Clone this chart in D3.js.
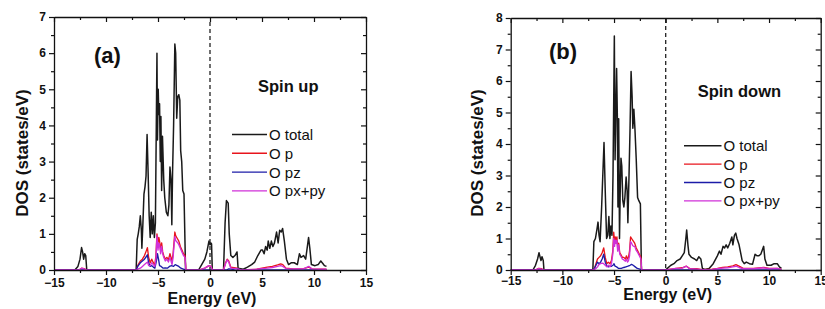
<!DOCTYPE html>
<html><head><meta charset="utf-8">
<script src="https://cdn.jsdelivr.net/npm/d3@7/dist/d3.min.js"></script>
<style>
html,body{margin:0;padding:0;background:#fff;}
svg{display:block;font-family:"Liberation Sans",Arial,sans-serif;}
</style></head>
<body>
<svg id="chart" width="825" height="309"></svg>
<script>
// ---------------- DATA ----------------
const xTicks = [-15, -10, -5, 0, 5, 10, 15];
const yTicksUp = [0, 1, 2, 3, 4, 5, 6, 7];
const yTicksDown = [0, 1, 2, 3, 4, 5, 6, 7, 8];
const seriesNames = ["O total", "O p", "O pz", "O px+py"];
const panelLabels = ["(a)", "(b)"];
const spinLabels = ["Spin up", "Spin down"];

// Spin up: [energy (eV), DOS]
const upTotal = [[-15,0],[-13.0,0],[-12.7,0.1],[-12.5,0.3],[-12.35,0.62],[-12.25,0.5],[-12.15,0.3],[-12.05,0.45],[-11.95,0.4],[-11.85,0],[-7.1,0],[-7.0,0.85],[-6.9,1.0],[-6.8,1.2],[-6.7,1.5],[-6.6,1.1],[-6.55,0.6],[-6.45,1.3],[-6.35,2.1],[-6.25,2.3],[-6.15,2.6],[-6.05,3.75],[-5.95,2.7],[-5.85,1.5],[-5.75,0.9],[-5.65,1.6],[-5.55,1.0],[-5.45,1.5],[-5.35,0.9],[-5.25,1.3],[-5.1,6.0],[-5.05,3.6],[-4.98,5.0],[-4.92,4.3],[-4.85,4.6],[-4.78,3.0],[-4.72,4.25],[-4.65,2.2],[-4.57,3.7],[-4.45,2.5],[-4.35,2.0],[-4.2,1.6],[-4.05,1.5],[-3.95,1.8],[-3.85,2.85],[-3.75,2.5],[-3.67,1.25],[-3.6,2.7],[-3.5,4.0],[-3.38,6.25],[-3.3,6.0],[-3.2,4.2],[-3.1,4.8],[-3.0,4.85],[-2.9,4.7],[-2.82,3.3],[-2.72,3.0],[-2.62,2.2],[-2.5,2.1],[-2.35,0],[-1.1,0],[-0.8,0.15],[-0.5,0.3],[-0.3,0.5],[-0.1,0.8],[0.0,0.7],[0.08,0.75],[0.15,0.72],[0.22,0],[1.3,0],[1.45,1.3],[1.58,1.92],[1.75,1.85],[1.85,1.0],[2.0,0.4],[2.2,0.35],[2.4,0.4],[2.6,0.5],[2.7,0.05],[3.2,0.02],[3.6,0.08],[4.0,0.15],[4.3,0.22],[4.6,0.4],[4.9,0.55],[5.05,0.55],[5.2,0.45],[5.35,0.65],[5.5,0.55],[5.6,0.8],[5.75,0.6],[5.9,0.8],[6.05,0.65],[6.2,0.75],[6.4,1.05],[6.55,0.75],[6.7,1.1],[6.85,1.05],[6.98,1.15],[7.15,0.8],[7.35,0.3],[7.55,0.15],[7.8,0.2],[8.1,0.2],[8.4,0.15],[8.6,0.45],[8.75,0.35],[9.0,0.4],[9.2,0.3],[9.48,0.9],[9.6,0.6],[9.75,0.15],[10.1,0.12],[10.4,0.15],[10.65,0.25],[10.85,0.18],[11.0,0.12],[11.2,0.1]];
const upP = [[-15,0],[-12.6,0],[-12.35,0.05],[-12.1,0.04],[-11.85,0],[-7.1,0],[-6.9,0.15],[-6.7,0.25],[-6.5,0.3],[-6.3,0.4],[-6.1,0.55],[-6.02,0.62],[-5.9,0.35],[-5.75,0.2],[-5.6,0.3],[-5.45,0.2],[-5.3,0.15],[-5.2,0.4],[-5.1,1.0],[-5.0,0.75],[-4.92,0.9],[-4.85,0.8],[-4.75,0.55],[-4.65,0.75],[-4.55,0.5],[-4.45,0.4],[-4.3,0.3],[-4.15,0.35],[-4.0,0.28],[-3.85,0.45],[-3.75,0.35],[-3.65,0.25],[-3.55,0.45],[-3.45,0.8],[-3.38,1.05],[-3.3,0.95],[-3.2,0.9],[-3.1,0.85],[-3.0,0.8],[-2.85,0.65],[-2.7,0.55],[-2.55,0.45],[-2.4,0.4],[-2.32,0],[-1.0,0],[-0.5,0.05],[-0.1,0.12],[0.1,0.1],[0.22,0],[1.3,0],[1.5,0.2],[1.65,0.3],[1.8,0.25],[2.0,0.08],[2.6,0.05],[2.7,0],[4.5,0.02],[5.0,0.05],[5.5,0.08],[6.0,0.1],[6.5,0.14],[6.8,0.17],[7.0,0.15],[7.3,0.05],[8.0,0.03],[9.0,0.04],[9.5,0.08],[9.8,0.03],[11.2,0.02]];
const upPz = [[-15,0],[-7.1,0],[-6.95,0.1],[-6.7,0.2],[-6.5,0.25],[-6.3,0.3],[-6.1,0.38],[-6.02,0.42],[-5.9,0.2],[-5.75,0.1],[-5.6,0.12],[-5.45,0.08],[-5.3,0.05],[-5.15,0.25],[-5.05,0.45],[-4.95,0.3],[-4.85,0.12],[-4.7,0.1],[-4.5,0.05],[-4.3,0.06],[-4.1,0.05],[-3.9,0.1],[-3.7,0.12],[-3.5,0.1],[-3.35,0.15],[-3.2,0.13],[-3.0,0.1],[-2.8,0.05],[-2.5,0.02],[-2.32,0],[1.6,0],[1.8,0.03],[2.2,0.02],[2.6,0.04],[2.8,0],[11.2,0]];
const upPxpy = [[-15,0],[-12.6,0],[-12.35,0.05],[-12.1,0.03],[-11.85,0],[-7.1,0],[-6.9,0.03],[-6.7,0.05],[-6.5,0.1],[-6.3,0.15],[-6.1,0.2],[-6.0,0.22],[-5.9,0.12],[-5.75,0.12],[-5.6,0.2],[-5.45,0.15],[-5.3,0.1],[-5.2,0.3],[-5.1,0.95],[-5.0,0.55],[-4.92,0.75],[-4.85,0.7],[-4.75,0.45],[-4.65,0.65],[-4.55,0.45],[-4.45,0.35],[-4.3,0.25],[-4.15,0.3],[-4.0,0.22],[-3.85,0.35],[-3.75,0.25],[-3.65,0.15],[-3.55,0.35],[-3.45,0.7],[-3.38,0.92],[-3.3,0.82],[-3.2,0.78],[-3.1,0.75],[-3.0,0.7],[-2.85,0.6],[-2.7,0.5],[-2.55,0.4],[-2.4,0.35],[-2.32,0],[-1.0,0],[-0.5,0.05],[-0.1,0.12],[0.1,0.1],[0.22,0],[1.3,0],[1.5,0.18],[1.65,0.28],[1.8,0.22],[2.0,0.05],[2.7,0.03],[3.0,0],[4.5,0.02],[5.0,0.04],[5.5,0.05],[6.0,0.07],[6.5,0.1],[6.8,0.12],[7.0,0.1],[7.3,0.04],[8.0,0.03],[9.0,0.03],[9.5,0.1],[9.8,0.03],[11.2,0.02]];

// Spin down: [energy (eV), DOS]
const downTotal = [[-15,0],[-12.85,0],[-12.6,0.15],[-12.4,0.35],[-12.26,0.55],[-12.15,0.4],[-12.07,0.3],[-11.97,0.42],[-11.85,0.3],[-11.78,0],[-7.05,0],[-6.95,0.9],[-6.8,1.0],[-6.65,1.3],[-6.55,1.52],[-6.45,1.1],[-6.35,0.9],[-6.2,2.0],[-6.1,2.9],[-5.97,4.05],[-5.85,2.5],[-5.72,1.0],[-5.6,1.1],[-5.5,1.7],[-5.4,1.0],[-5.3,1.4],[-5.2,1.1],[-5.1,3.0],[-4.97,7.43],[-4.9,3.5],[-4.82,5.0],[-4.75,6.4],[-4.68,4.9],[-4.62,2.0],[-4.55,4.8],[-4.47,1.0],[-4.4,2.5],[-4.33,3.55],[-4.25,3.3],[-4.15,2.2],[-4.05,2.0],[-3.95,2.3],[-3.83,2.95],[-3.73,2.5],[-3.66,1.5],[-3.55,3.0],[-3.45,4.5],[-3.35,6.3],[-3.25,5.5],[-3.18,4.5],[-3.08,5.1],[-2.98,4.5],[-2.85,3.5],[-2.72,2.3],[-2.6,2.2],[-2.45,2.1],[-2.35,0],[0.0,0],[0.05,0.02],[0.5,0.15],[0.8,0.2],[1.1,0.3],[1.4,0.35],[1.6,0.45],[1.8,0.55],[1.95,1.0],[2.03,1.27],[2.15,0.8],[2.25,0.5],[2.5,0.4],[2.8,0.35],[3.0,0.3],[3.2,0.42],[3.4,0.35],[3.55,0.05],[3.8,0.02],[4.2,0.05],[4.6,0.2],[5.0,0.45],[5.2,0.6],[5.35,0.5],[5.55,0.75],[5.7,0.7],[5.85,0.8],[6.0,0.7],[6.2,0.85],[6.4,1.05],[6.5,0.8],[6.65,1.1],[6.78,1.17],[6.9,1.0],[7.1,0.8],[7.4,0.3],[7.6,0.2],[7.8,0.25],[8.1,0.2],[8.4,0.18],[8.65,0.5],[8.85,0.45],[9.0,0.45],[9.2,0.5],[9.48,0.75],[9.6,0.35],[9.8,0.15],[10.2,0.15],[10.5,0.2],[10.8,0.2],[11.0,0.1],[11.2,0.05]];
const downP = [[-15,0],[-12.6,0],[-12.3,0.05],[-12.0,0.04],[-11.8,0],[-7.05,0],[-6.9,0.05],[-6.75,0.2],[-6.6,0.35],[-6.45,0.4],[-6.3,0.45],[-6.15,0.55],[-6.0,0.7],[-5.85,0.4],[-5.7,0.2],[-5.55,0.25],[-5.4,0.2],[-5.25,0.3],[-5.12,0.6],[-5.03,1.2],[-4.95,0.9],[-4.88,1.05],[-4.8,0.95],[-4.72,1.05],[-4.65,0.7],[-4.55,0.85],[-4.45,0.55],[-4.35,0.5],[-4.2,0.4],[-4.05,0.4],[-3.9,0.35],[-3.8,0.45],[-3.7,0.35],[-3.6,0.4],[-3.5,0.6],[-3.4,1.05],[-3.3,1.0],[-3.2,0.95],[-3.1,0.9],[-3.0,0.85],[-2.85,0.7],[-2.7,0.6],[-2.55,0.5],[-2.4,0.4],[-2.33,0],[0,0],[0.5,0.03],[1.0,0.05],[1.6,0.07],[2.0,0.12],[2.3,0.05],[3.0,0.04],[3.5,0.01],[4.5,0.03],[5.0,0.05],[5.5,0.08],[6.0,0.1],[6.5,0.13],[6.8,0.17],[7.1,0.12],[7.5,0.05],[8.5,0.05],[9.5,0.08],[10.0,0.05],[10.8,0.05],[11.2,0.02]];
const downPz = [[-15,0],[-7.05,0],[-6.9,0.05],[-6.75,0.15],[-6.6,0.25],[-6.45,0.2],[-6.3,0.25],[-6.15,0.35],[-6.0,0.5],[-5.85,0.25],[-5.7,0.12],[-5.55,0.1],[-5.4,0.12],[-5.25,0.12],[-5.1,0.15],[-5.0,0.2],[-4.9,0.12],[-4.75,0.1],[-4.55,0.05],[-4.3,0.05],[-4.05,0.08],[-3.85,0.1],[-3.65,0.12],[-3.45,0.15],[-3.3,0.18],[-3.15,0.15],[-2.95,0.1],[-2.75,0.05],[-2.5,0.03],[-2.33,0],[11.2,0]];
const downPxpy = [[-15,0],[-12.6,0],[-12.3,0.04],[-12.0,0.03],[-11.8,0],[-7.05,0],[-6.9,0.02],[-6.75,0.05],[-6.6,0.1],[-6.45,0.18],[-6.3,0.2],[-6.15,0.22],[-6.0,0.2],[-5.85,0.15],[-5.7,0.1],[-5.55,0.15],[-5.4,0.1],[-5.25,0.2],[-5.12,0.5],[-5.03,1.0],[-4.95,0.75],[-4.88,0.95],[-4.8,0.85],[-4.72,0.95],[-4.65,0.6],[-4.55,0.8],[-4.45,0.5],[-4.35,0.45],[-4.2,0.35],[-4.05,0.32],[-3.9,0.28],[-3.8,0.35],[-3.7,0.25],[-3.6,0.3],[-3.5,0.45],[-3.4,0.9],[-3.3,0.85],[-3.2,0.78],[-3.1,0.75],[-3.0,0.75],[-2.85,0.62],[-2.7,0.55],[-2.55,0.45],[-2.4,0.35],[-2.33,0],[0,0],[0.5,0.03],[1.0,0.05],[1.6,0.06],[2.0,0.12],[2.3,0.04],[3.0,0.03],[3.5,0.01],[4.5,0.02],[5.0,0.04],[5.5,0.06],[6.0,0.07],[6.5,0.1],[6.8,0.12],[7.1,0.08],[7.5,0.04],[8.5,0.04],[9.5,0.07],[10.0,0.04],[10.8,0.05],[11.2,0.02]];

// ---------------- DRAWING ----------------
const colors = ["#1a1a1a", "#e8141c", "#1c1ca8", "#d030d8"];
const svg = d3.select("#chart");

function drawPanel(o) {
  const x = d3.scaleLinear().domain([-15, 15]).range([o.x0, o.x1]);
  const y = d3.scaleLinear().domain([0, o.yMax]).range([o.y0, o.y1]);
  const g = svg.append("g");
  const minorX = d3.range(-15, 15.01, 2.5).filter(v => !xTicks.includes(v));
  const minorY = d3.range(0, o.yMax + 0.01, 0.5).filter(v => !o.yTicks.includes(v));

  // curves
  const line = d3.line().x(d => x(d[0])).y(d => y(d[1]));
  o.series.forEach((s, i) => {
    g.append("path").datum(s).attr("d", line)
      .attr("fill", "none").attr("stroke", colors[i])
      .attr("stroke-width", i === 0 ? 1.5 : 1.35).attr("stroke-linejoin", "round");
  });

  // Fermi level dashed line
  g.append("line").attr("x1", x(0)).attr("x2", x(0))
    .attr("y1", o.dashTop).attr("y2", o.y0)
    .attr("stroke", "#222").attr("stroke-width", 1.3).attr("stroke-dasharray", "4,3");

  const axStyle = sel => {
    sel.select(".domain").attr("stroke", "#111").attr("stroke-width", 1.3);
    sel.selectAll(".tick line").attr("stroke", "#111").attr("stroke-width", 1.2);
  };
  // bottom
  const bx = g.append("g").attr("transform", `translate(0,${o.y0})`)
    .call(d3.axisBottom(x).tickValues(xTicks).tickSize(5).tickSizeOuter(0).tickFormat(d3.format("d")));
  bx.selectAll("text").attr("font-size", 12).attr("font-weight", "bold").attr("fill", "#111").attr("dy", "0.71em").attr("y", o.tickLabY);
  axStyle(bx);
  g.append("g").attr("transform", `translate(0,${o.y0})`)
    .call(d3.axisBottom(x).tickValues(minorX).tickSize(3).tickFormat("")).call(axStyle)
    .select(".domain").remove();
  // top (inward)
  const tx = g.append("g").attr("transform", `translate(0,${o.y1})`)
    .call(d3.axisBottom(x).tickValues(xTicks).tickSize(5).tickSizeOuter(0).tickFormat(""));
  axStyle(tx);
  g.append("g").attr("transform", `translate(0,${o.y1})`)
    .call(d3.axisBottom(x).tickValues(minorX).tickSize(3).tickFormat("")).call(axStyle)
    .select(".domain").remove();
  // left
  const ly = g.append("g").attr("transform", `translate(${o.x0},0)`)
    .call(d3.axisLeft(y).tickValues(o.yTicks).tickSize(5).tickSizeOuter(0).tickFormat(d3.format("d")));
  ly.selectAll("text").attr("font-size", 12).attr("font-weight", "bold").attr("fill", "#111").attr("x", -8);
  axStyle(ly);
  g.append("g").attr("transform", `translate(${o.x0},0)`)
    .call(d3.axisLeft(y).tickValues(minorY).tickSize(3).tickFormat("")).call(axStyle)
    .select(".domain").remove();
  // right (inward)
  const ry = g.append("g").attr("transform", `translate(${o.x1},0)`)
    .call(d3.axisLeft(y).tickValues(o.yTicks).tickSize(5).tickSizeOuter(0).tickFormat(""));
  axStyle(ry);
  g.append("g").attr("transform", `translate(${o.x1},0)`)
    .call(d3.axisLeft(y).tickValues(minorY).tickSize(3).tickFormat("")).call(axStyle)
    .select(".domain").remove();

  // axis titles
  g.append("text").attr("x", (o.x0 + o.x1) / 2 + 2).attr("y", o.xTitleY)
    .attr("text-anchor", "middle").attr("font-size", 16).attr("font-weight", "bold").attr("fill", "#111")
    .text("Energy (eV)");
  g.append("text").attr("transform", `translate(${o.yTitleX},153) rotate(-90)`)
    .attr("text-anchor", "middle").attr("font-size", 17).attr("font-weight", "bold").attr("fill", "#111")
    .text("DOS (states/eV)");

  // panel label and spin label
  g.append("text").attr("x", o.labelX).attr("y", o.labelY)
    .attr("font-size", 22).attr("font-weight", "bold").attr("fill", "#111").text(o.label);
  g.append("text").attr("x", o.spinX).attr("y", o.spinY)
    .attr("font-size", 16.5).attr("font-weight", "bold").attr("fill", "#111").text(o.spin);

  // legend
  seriesNames.forEach((name, i) => {
    const ly0 = o.legY + i * o.legStep;
    g.append("line").attr("x1", o.legX).attr("x2", o.legX + o.legLen)
      .attr("y1", ly0).attr("y2", ly0).attr("stroke", colors[i]).attr("stroke-width", 1.4);
    g.append("text").attr("x", o.legX + o.legLen + 2).attr("y", ly0 + 5.5)
      .attr("font-size", 15).attr("fill", "#111").text(name);
  });
}

drawPanel({
  x0: 54, x1: 366, y0: 270, y1: 17, yMax: 7, yTicks: yTicksUp, dashTop: 22,
  series: [upTotal, upP, upPz, upPxpy],
  tickLabY: 8, xTitleY: 303.5, yTitleX: 28,
  label: panelLabels[0], labelX: 94, labelY: 63,
  spin: spinLabels[0], spinX: 258, spinY: 92,
  legX: 232, legLen: 35, legY: 134.5, legStep: 18.8
});
drawPanel({
  x0: 510.7, x1: 820.7, y0: 270, y1: 18, yMax: 8, yTicks: yTicksDown, dashTop: 19,
  series: [downTotal, downP, downPz, downPxpy],
  tickLabY: 6, xTitleY: 300, yTitleX: 483,
  label: panelLabels[1], labelX: 549, labelY: 59,
  spin: spinLabels[1], spinX: 697.7, spinY: 96.5,
  legX: 684, legLen: 37.5, legY: 145.7, legStep: 18.4
});
</script>
</body></html>
